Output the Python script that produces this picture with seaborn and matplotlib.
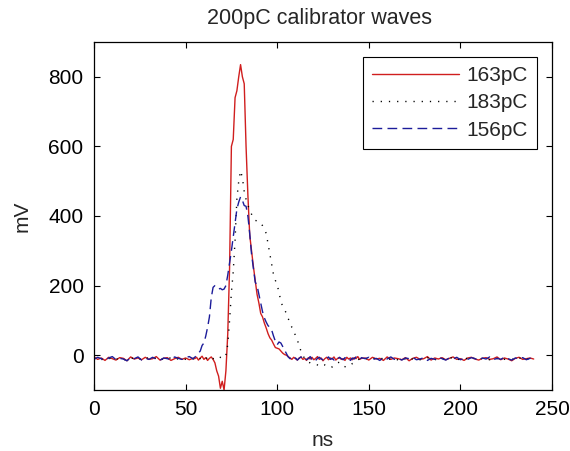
import matplotlib
matplotlib.use("Agg")
import matplotlib.pyplot as plt
import seaborn as sns
import numpy as np
import pandas as pd

# sample times (ns)
t_ns = list(range(0, 55, 2)) + list(range(55, 147)) + list(range(148, 241, 2))

# 163pC (red, solid)
wave_163 = ([-5, -12, -8, -15, -6, -10, -14, -7, -9, -16, -5, -11, -8, -13, -6,
             -12, -10, -4, -14, -9, -7, -15, -10, -6, -12, -8, -13, -9]
            + [-10, -6, -14, -8, -3, -12, -7, -15, -9, -5,
               -12, -22, -45, -60, -95, -75, -100, -45,
               60, 250, 600, 620, 740, 760, 800, 835,
               800, 780, 600, 460, 345, 300, 255, 215, 175, 150,
               120, 110, 92, 78, 62, 50, 43, 32, 22, 20,
               18, 12, 6, 2, 0, -4, -8, -12, -6, -10,
               -14, -8, -5, -12, -9, -15, -7, -11, -6, -13,
               -9, -4, -12, -8, -16, -10, -6, -13, -8, -11,
               -5, -14, -9, -7, -12, -10, -15, -6, -11, -8,
               -13, -7, -10, -4, -12, -9]
            + [-8, -14, -6, -11, -9, -15, -5, -12, -8, -10, -13, -7, -16, -9, -6,
               -12, -10, -4, -14, -8, -11, -7, -13, -9, -5, -12, -10, -15, -8, -6,
               -11, -14, -9, -7, -12, -10, -5, -13, -8, -11, -16, -9, -6, -12, -10,
               -8, -11])

# 183pC (black, dotted)
wave_183 = ([-10, -7, -13, -9, -11, -6, -12, -8, -14, -10, -7, -11, -9, -13, -6,
             -10, -12, -8, -15, -9, -11, -7, -13, -10, -8, -12, -9, -11]
            + [-9, -12, -7, -10, -13, -8, -11, -6, -12, -9,
               -10, -8, -12, -9, -6, -10, -5, 0,
               30, 100, 180, 240, 330, 450, 500, 530,
               510, 470, 448, 430, 419, 405, 392, 388, 385, 383,
               381, 372, 362, 350, 320, 289, 260, 231, 215, 202,
               180, 155, 140, 130, 121, 105, 95, 80, 72, 55,
               45, 25, 12, 0, -10, -15, -20, -22, -25, -25,
               -27, -28, -30, -26, -29, -28, -31, -32, -30, -34,
               -28, -25, -22, -20, -26, -30, -33, -34, -32, -30,
               -24, -22, -16, -14, -10, -12]
            + [-9, -12, -8, -11, -13, -7, -10, -12, -9, -14, -8, -11, -6, -12, -10,
               -13, -9, -7, -11, -14, -8, -10, -12, -9, -6, -13, -11, -8, -10, -14,
               -7, -12, -9, -11, -13, -8, -10, -6, -12, -9, -11, -14, -8, -10, -12,
               -9, -11])

# 156pC (blue, dashed)
wave_156 = ([-12, -6, -10, -15, -8, -4, -13, -9, -11, -16, -7, -10, -5, -14, -9,
             -12, -6, -11, -15, -8, -10, -13, -5, -9, -12, -7, -4, -10]
            + [-6, 0, 6, 12, 28, 35, 55, 80, 110, 165,
               195, 200, 195, 190, 192, 188, 190, 200,
               230, 265, 300, 340, 380, 420, 440, 455,
               445, 430, 428, 400, 350, 290, 250, 210, 200, 175,
               150, 125, 107, 95, 85, 80, 72, 55, 40, 30,
               38, 35, 25, 15, 5, -5, -10, -6, -12, -8,
               -14, -9, -5, -11, -7, -13, -10, -4, -12, -8,
               -15, -9, -6, -11, -13, -7, -10, -5, -12, -9,
               -14, -8, -11, -6, -10, -13, -7, -12, -9, -15,
               -8, -11, -5, -10, -13, -7]
            + [-10, -6, -13, -9, -15, -7, -11, -5, -12, -9, -14, -8, -10, -6, -13,
               -11, -7, -15, -9, -12, -5, -10, -14, -8, -11, -6, -13, -9, -12, -7,
               -10, -15, -8, -11, -5, -13, -9, -12, -6, -10, -14, -8, -11, -7, -13,
               -9, -10])

labels = ["163pC", "183pC", "156pC"]
x_ticks = [0, 50, 100, 150, 200, 250]
y_ticks = [0, 200, 400, 600, 800]

sns.set_style("white")
plt.rcParams["font.family"] = ["Liberation Sans", "DejaVu Sans"]
plt.rcParams["font.size"] = 15

fig = plt.figure(figsize=(5.70, 4.51), dpi=100)
ax = fig.add_axes([94 / 570, 1 - 390 / 451, (552 - 94) / 570, (390 - 42) / 451])

series = [wave_163, wave_183, wave_156]
colors = ["#d01e1e", "#000000", "#1c1c9a"]
dashes = [None, (0.9, 5.0), (7, 3.8)]
for vals, lab, col, ds in zip(series, labels, colors, dashes):
    sns.lineplot(x=t_ns, y=vals, ax=ax, color=col, linewidth=1.0, label=lab)
    line = ax.lines[-1]
    if ds is not None:
        line.set_dashes(ds)

ax.set_xlim(0, 250)
ax.set_ylim(-100, 900)
ax.set_xticks(x_ticks)
ax.set_yticks(y_ticks)
ax.tick_params(direction="in", length=4, width=0.8, top=True, right=True,
               bottom=True, left=True, labelsize=15, colors="black", pad=7.5)
for sp in ax.spines.values():
    sp.set_visible(True)
    sp.set_color("black")
    sp.set_linewidth(0.9)

ax.set_title("200pC calibrator waves", fontsize=15.5, pad=13, x=0.492)
ax.set_xlabel("ns", fontsize=15, labelpad=8)
ax.set_ylabel("mV", fontsize=15, labelpad=12)

leg = ax.legend(ax.lines[:3], labels, loc="upper right", frameon=True,
                fancybox=False, shadow=False, framealpha=1, edgecolor="black",
                handlelength=4.2, labelspacing=0.4, borderaxespad=0.7,
                fontsize=15, handletextpad=0.35, borderpad=0.45)
leg.get_frame().set_linewidth(0.8)

fig.savefig("out.png", dpi=100)
